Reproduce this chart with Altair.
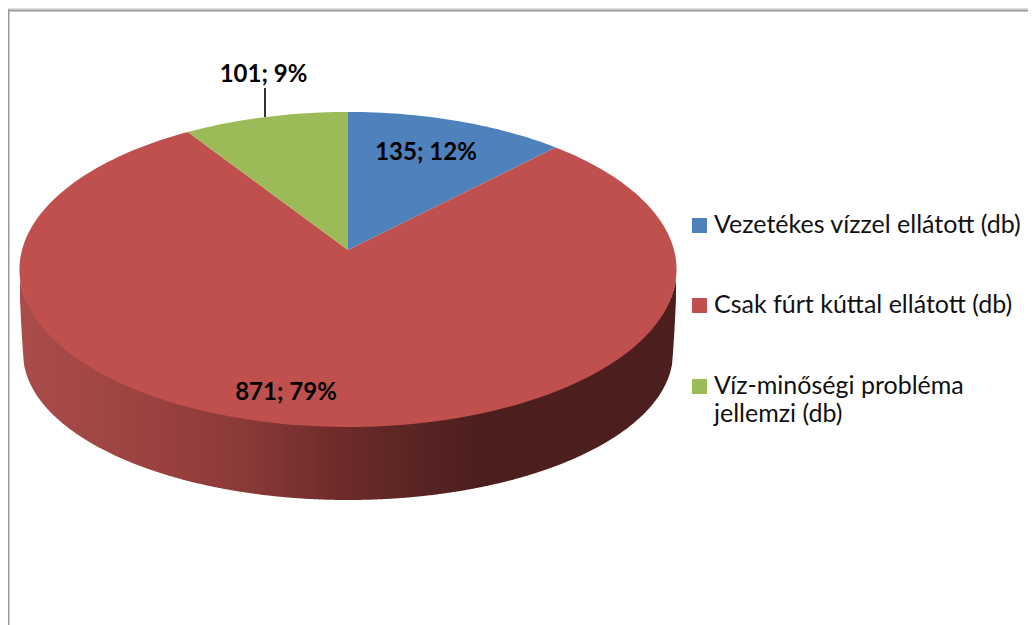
import math
import altair as alt
import pandas as pd

categories = ["Vezetékes vízzel ellátott (db)", "Csak fúrt kúttal ellátott (db)", "Víz-minőségi probléma|jellemzi (db)"]
values = [135, 871, 101]
colors = ["#4f81bd", "#c0504d", "#9bbb59"]
label_x = [426, 286, 263.5]
label_y = [160, 400, 81.5]
legend_y = [225.5, 305.5, 386.5]
legend_text_y = [233, 313, 394]

# view geometry of the tilted pie, in picture pixels
CX, APEX_Y, C, A, K = 348, 250, 326, 155.1, 0.1238
RX, CY, RY = 329, 269.5, 157.5
RX2, CY2, RY2 = 325, 353, 147

def project(theta):
    X, Y = math.sin(theta), math.cos(theta)
    d = 1 + K * Y
    return CX + C * X / d, APEX_Y - A * Y / d

total = sum(values)
rows, start = [], 0.0
for cat, v in zip(categories, values):
    end = start + v / total
    n = max(4, int(v / 4))
    rows.append(dict(cat=cat, i=0, x=CX, y=APEX_Y))
    for j in range(n + 1):
        px, py = project(2 * math.pi * (start + (end - start) * j / n))
        rows.append(dict(cat=cat, i=j + 1, x=px, y=py))
    start = end
wedges = pd.DataFrame(rows)

wall = []
for j in range(0, 657):
    x = 20 + j
    dx = (x - CX) / RX
    top = CY + RY * math.sqrt(max(0, 1 - dx * dx))
    dx2 = (x - CX) / RX2
    if abs(dx2) < 1:
        bottom = CY2 + RY2 * math.sqrt(1 - dx2 * dx2)
    else:
        bottom = top + (CY2 - top) * (1 - (abs(x - CX) - RX2) / (RX - RX2))
    wall.append(dict(x=x, top=top - 2, bottom=bottom))
wall = pd.DataFrame(wall)

xs = alt.Scale(domain=[8, 1028], zero=False, nice=False)
ys = alt.Scale(domain=[625, 8], zero=False, nice=False)
X = lambda f: alt.X(f, type="quantitative", scale=xs, axis=None)
Y = lambda f: alt.Y(f, type="quantitative", scale=ys, axis=None)
FONT = "Lato"

frame_left = alt.Chart(pd.DataFrame({"x": [8.5], "y": [9.5], "y2": [625]})).mark_rule(color="#999999", strokeWidth=2).encode(
    x=X("x"), y=Y("y"), y2="y2")
frame_top = alt.Chart(pd.DataFrame({"x": [7.5], "x2": [1028], "y": [10.5]})).mark_rule(color="#999999", strokeWidth=2).encode(
    x=X("x"), x2="x2", y=Y("y"))

gradient = alt.LinearGradient(gradient="linear", x1=0, x2=1, y1=0, y2=0, stops=[
    alt.GradientStop(offset=0.0, color="#a94d4a"),
    alt.GradientStop(offset=0.18, color="#9c4341"),
    alt.GradientStop(offset=0.34, color="#8b3a39"),
    alt.GradientStop(offset=0.48, color="#702b2b"),
    alt.GradientStop(offset=0.58, color="#5d2625"),
    alt.GradientStop(offset=0.70, color="#4d1e1e"),
    alt.GradientStop(offset=1.0, color="#4d1e1e"),
])
side = alt.Chart(wall).mark_area(color=gradient).encode(x=X("x"), y=Y("bottom"), y2="top")

cscale = alt.Scale(domain=categories, range=colors)
pie = alt.Chart(wedges).mark_line(filled=True, strokeWidth=0.6).encode(
    x=X("x"), y=Y("y"),
    color=alt.Color("cat:N", scale=cscale, legend=None),
    order=alt.Order("i:Q"),
)

labels_df = pd.DataFrame({
    "t": [f"{v}; {round(100 * v / total)}%" for v in values],
    "x": label_x, "y": label_y,
})
labels = alt.Chart(labels_df).mark_text(font=FONT, fontWeight="bold", fontSize=24, color="#000000", align="center", baseline="alphabetic").encode(
    x=X("x"), y=Y("y"), text="t:N")
leader = alt.Chart(pd.DataFrame({"x": [265], "y": [88], "y2": [117]})).mark_rule(color="#000000", strokeWidth=1.6).encode(
    x=X("x"), y=Y("y"), y2="y2")

leg = pd.DataFrame({"cat": categories, "sx": [699.5] * 3, "tx": [714] * 3, "sy": legend_y, "ty": legend_text_y})
leg_sym = alt.Chart(leg).mark_square(size=225, opacity=1).encode(
    x=X("sx"), y=Y("sy"), color=alt.Color("cat:N", scale=cscale, legend=None))
leg_txt = alt.Chart(leg).mark_text(font=FONT, fontSize=25, color="#111111", align="left", baseline="alphabetic", lineBreak="|", lineHeight=28).encode(
    x=X("tx"), y=Y("ty"), text="cat:N")

chart = alt.layer(frame_left, frame_top, side, pie, leader, labels, leg_sym, leg_txt).properties(
    width=1020, height=617, padding=0, autosize=alt.AutoSizeParams(type="none")
).configure_view(stroke=None).configure(background="#ffffff")

chart.save("out.html", embed_options={"renderer": "svg", "actions": False})
